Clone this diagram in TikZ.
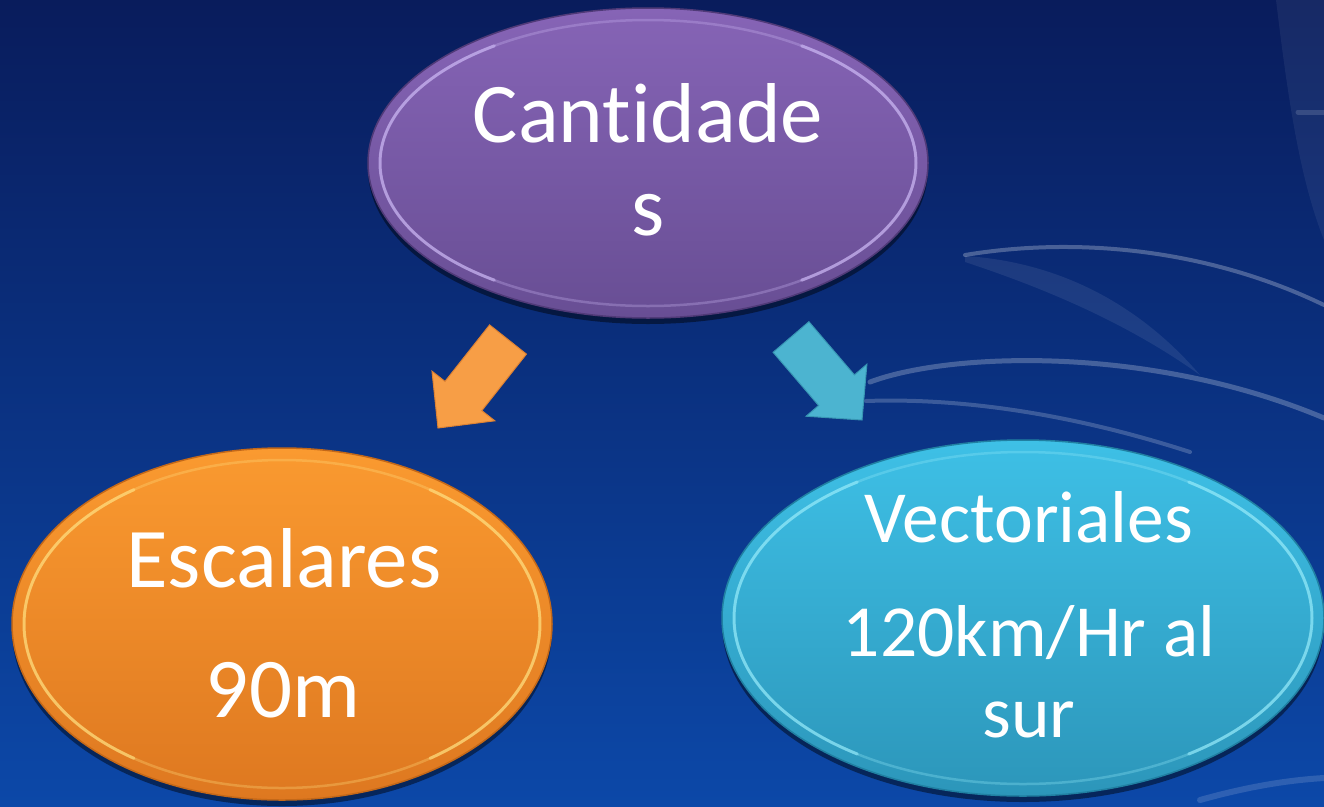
\documentclass[tikz,border=0pt]{standalone}
\usepackage{fontspec}
\setmainfont[Ligatures=NoCommon]{Carlito}
\usetikzlibrary{shapes.geometric,shadows}
\definecolor{bgtop}{RGB}{9,28,92}
\definecolor{bgmid}{RGB}{10,58,140}
\definecolor{bgbot}{RGB}{12,72,168}
\definecolor{puTop}{RGB}{134,100,182}
\definecolor{puBot}{RGB}{104,78,148}
\definecolor{puEdge}{RGB}{80,58,120}
\definecolor{puRim}{RGB}{205,185,245}
\definecolor{orTop}{RGB}{250,154,48}
\definecolor{orBot}{RGB}{222,120,32}
\definecolor{orEdge}{RGB}{196,104,24}
\definecolor{orRim}{RGB}{255,225,130}
\definecolor{cyTop}{RGB}{62,192,230}
\definecolor{cyBot}{RGB}{44,150,186}
\definecolor{cyEdge}{RGB}{32,128,162}
\definecolor{cyRim}{RGB}{150,235,250}
\definecolor{orArrow}{RGB}{247,158,70}
\definecolor{orArrowEdge}{RGB}{222,130,50}
\definecolor{cyArrow}{RGB}{76,180,208}
\definecolor{cyArrowEdge}{RGB}{56,150,180}
\tikzset{
  bubble/.style={ellipse, inner sep=0pt, line width=1.5pt,
    drop shadow={shadow xshift=0pt, shadow yshift=-6pt, opacity=.45, fill=black}},
  bigtext/.style={text=white, anchor=base, inner sep=0pt, font=\fontsize{85}{90}\selectfont},
  midtext/.style={text=white, anchor=base, inner sep=0pt, font=\fontsize{73.5}{80}\selectfont},
  rim/.style={line width=2.5pt, opacity=.3},
  rimhi/.style={line width=3pt, opacity=.6, line cap=round},
  blockarrow/.style={fill=#1, line width=1pt, line join=miter},
  swoosh/.style={draw=white, line cap=round, opacity=#1}
}
\begin{document}
\begin{tikzpicture}[x=1pt,y=-1pt]
\useasboundingbox (0,0) rectangle (1324,806);
\fill[top color=bgtop, middle color=bgmid, bottom color=bgbot] (0,0) rectangle (1324,806);
% decorative swooshes
\fill[white, opacity=.06] (1276,0) .. controls (1288,100) and (1300,180) .. (1324,240) -- (1324,0) -- cycle;
\draw[swoosh=.14, line width=5pt] (1298,112) -- (1324,112);
\draw[swoosh=.26, line width=4pt] (965,255) .. controls (1080,236) and (1210,250) .. (1324,305);
\fill[white, opacity=.08] (965,256) .. controls (1060,262) and (1140,305) .. (1200,375) .. controls (1130,325) and (1050,290) .. (965,262) -- cycle;
\draw[swoosh=.24, line width=5pt] (870,382) .. controls (950,352) and (1150,345) .. (1324,418);
\draw[swoosh=.2, line width=4pt] (866,401) .. controls (950,398) and (1060,410) .. (1190,452);
\draw[swoosh=.14, line width=6pt] (1200,800) .. controls (1250,786) and (1290,780) .. (1324,778);
% ellipses
\node[bubble, minimum width=560pt, minimum height=310pt, draw=puEdge, top color=puTop, bottom color=puBot] (cant) at (648,163) {};
\draw[rim, draw=puRim] (cant.center) ellipse [x radius=268pt, y radius=143pt];
\draw[rimhi, draw=puRim] (cant.center) ++(125:268 and 143) arc [start angle=125, end angle=235, x radius=268, y radius=143];
\draw[rimhi, draw=puRim] (cant.center) ++(-55:268 and 143) arc [start angle=-55, end angle=55, x radius=268, y radius=143];
\node[bubble, minimum width=540pt, minimum height=352pt, draw=orEdge, top color=orTop, bottom color=orBot] (esc) at (282,624) {};
\draw[rim, draw=orRim] (esc.center) ellipse [x radius=258pt, y radius=164pt];
\draw[rimhi, draw=orRim] (esc.center) ++(125:258 and 164) arc [start angle=125, end angle=235, x radius=258, y radius=164];
\draw[rimhi, draw=orRim] (esc.center) ++(-55:258 and 164) arc [start angle=-55, end angle=55, x radius=258, y radius=164];
\node[bubble, minimum width=602pt, minimum height=356pt, draw=cyEdge, top color=cyTop, bottom color=cyBot] (vec) at (1023,618) {};
\draw[rim, draw=cyRim] (vec.center) ellipse [x radius=289pt, y radius=166pt];
\draw[rimhi, draw=cyRim] (vec.center) ++(125:289 and 166) arc [start angle=125, end angle=235, x radius=289, y radius=166];
\draw[rimhi, draw=cyRim] (vec.center) ++(-55:289 and 166) arc [start angle=-55, end angle=55, x radius=289, y radius=166];
% texts
\node[bigtext] (t1) at (648,142) {Cantidade};
\node[bigtext] (t2) at (648,235) {s};
\node[bigtext] (t3) at (284,587) {Escalares};
\node[bigtext] (t4) at (283,717) {90m};
\node[midtext] (t5) at (1029,542) {Vectoriales};
\node[midtext] (t6) at (1029,656) {120km/Hr al};
\node[midtext] (t7) at (1029,737) {sur};
% block arrows
\coordinate (oa1) at (489.6,324.9);
\coordinate (oa2) at (526.4,354.1);
\coordinate (oa3) at (481.8,410.6);
\coordinate (oa4) at (494.8,420.8);
\coordinate (oa5) at (438,428);
\coordinate (oa6) at (432,371.2);
\coordinate (oa7) at (445,381.4);
\draw[blockarrow=orArrow, draw=orArrowEdge] (oa1) -- (oa2) -- (oa3) -- (oa4) -- (oa5) -- (oa6) -- (oa7) -- cycle;
\coordinate (ca1) at (773.1,352.3);
\coordinate (ca2) at (808.9,321.7);
\coordinate (ca3) at (854.4,374.9);
\coordinate (ca4) at (866.9,364.2);
\coordinate (ca5) at (862,420);
\coordinate (ca6) at (806.1,416.2);
\coordinate (ca7) at (818.6,405.5);
\draw[blockarrow=cyArrow, draw=cyArrowEdge] (ca1) -- (ca2) -- (ca3) -- (ca4) -- (ca5) -- (ca6) -- (ca7) -- cycle;
\end{tikzpicture}
\end{document}
